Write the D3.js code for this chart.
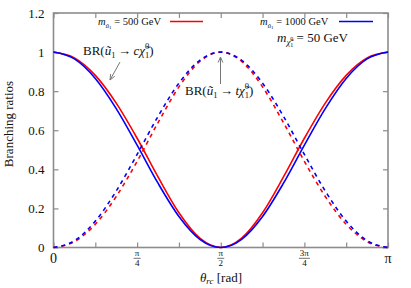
<!DOCTYPE html>
<html>
<head>
<meta charset="utf-8">
<script src="https://cdn.jsdelivr.net/npm/d3@7"></script>
<style>
  body { margin: 0; background: white; }
  text { font-family: "Liberation Serif", "DejaVu Serif", serif; }
</style>
</head>
<body>
<div id="chart"></div>
<script>
// theta in units of pi
var theta = [0, 0.0625, 0.125, 0.1875, 0.25, 0.3125, 0.375, 0.4375, 0.5,
             0.5625, 0.625, 0.6875, 0.75, 0.8125, 0.875, 0.9375, 1];
// m_u1 = 500 GeV (red)
var brCharm500 = [1, 0.970, 0.881, 0.739, 0.559, 0.361, 0.178, 0.048, 0,
                  0.048, 0.178, 0.361, 0.559, 0.739, 0.881, 0.970, 1];
var brTop500 = [0, 0.030, 0.119, 0.261, 0.441, 0.639, 0.822, 0.952, 1,
                0.952, 0.822, 0.639, 0.441, 0.261, 0.119, 0.030, 0];
// m_u1 = 1000 GeV (blue)
var brCharm1000 = [1, 0.965, 0.865, 0.711, 0.524, 0.329, 0.159, 0.042, 0,
                   0.042, 0.159, 0.329, 0.524, 0.711, 0.865, 0.965, 1];
var brTop1000 = [0, 0.035, 0.135, 0.289, 0.476, 0.671, 0.841, 0.958, 1,
                 0.958, 0.841, 0.671, 0.476, 0.289, 0.135, 0.035, 0];

var yTicks = [0, 0.2, 0.4, 0.6, 0.8, 1, 1.2];
var xTicks = [0, 0.125, 0.25, 0.375, 0.5, 0.625, 0.75, 0.875, 1];
var xLabelAt = [0, 0.25, 0.5, 0.75, 1];
var xLabelNum = ["0", "π", "π", "3π", "π"];
var xLabelDen = ["", "4", "2", "4", ""];

var w = 411, h = 288;
var margin = {left: 53.5, right: 23, top: 13, bottom: 40.5};
var axisGrey = "#8c8c8c";
var ink = "#111";
var red = "#ff0000", blue = "#0000ff";

var svg = d3.select("#chart").append("svg").attr("width", w).attr("height", h);

var x = d3.scaleLinear().domain([0, 1]).range([margin.left, w - margin.right]);
var y = d3.scaleLinear().domain([0, 1.2]).range([h - margin.bottom, margin.top]);

function styleAxis(g) {
    g.select(".domain").remove();
    g.selectAll(".tick line").attr("stroke", axisGrey).attr("stroke-width", 1.2);
    g.selectAll("text").attr("font-family", "Liberation Serif").attr("font-size", "13px").attr("fill", ink);
}

svg.append("g")
    .attr("transform", "translate(" + margin.left + ",0)")
    .call(d3.axisLeft(y).tickValues(yTicks).tickSize(-5).tickPadding(9)
        .tickFormat(function(d) { return d === 0 || d === 1 ? d3.format("d")(d) : d3.format(".1f")(d); }))
    .call(styleAxis);
svg.append("g")
    .attr("transform", "translate(" + (w - margin.right) + ",0)")
    .call(d3.axisRight(y).tickValues(yTicks).tickSize(-5).tickFormat(""))
    .call(styleAxis);
svg.append("g")
    .attr("transform", "translate(0," + (h - margin.bottom) + ")")
    .call(d3.axisBottom(x).tickValues(xTicks).tickSize(-5).tickFormat(""))
    .call(styleAxis);
svg.append("g")
    .attr("transform", "translate(0," + margin.top + ")")
    .call(d3.axisTop(x).tickValues(xTicks).tickSize(-5).tickFormat(""))
    .call(styleAxis);

// frame
svg.append("rect")
    .attr("x", margin.left).attr("y", margin.top)
    .attr("width", w - margin.left - margin.right)
    .attr("height", h - margin.top - margin.bottom)
    .attr("fill", "none").attr("stroke", axisGrey).attr("stroke-width", 1.6);

// x tick labels (pi fractions)
var xl = svg.append("g");
for (var i = 0; i < xLabelAt.length; i++) {
    var cx = x(xLabelAt[i]);
    if (xLabelDen[i] === "") {
        xl.append("text").attr("x", cx).attr("y", 263).attr("text-anchor", "middle")
            .attr("font-size", "14px").attr("fill", ink).text(xLabelNum[i]);
    } else {
        xl.append("text").attr("x", cx).attr("y", 256).attr("text-anchor", "middle")
            .attr("font-size", "9px").attr("fill", ink).text(xLabelNum[i]);
        var lw = xLabelNum[i].length > 1 ? 5.5 : 3.5;
        xl.append("line").attr("x1", cx - lw).attr("x2", cx + lw)
            .attr("y1", 258.3).attr("y2", 258.3).attr("stroke", ink).attr("stroke-width", 0.6);
        xl.append("text").attr("x", cx).attr("y", 265.5).attr("text-anchor", "middle")
            .attr("font-size", "9px").attr("fill", ink).text(xLabelDen[i]);
    }
}

// axis titles
var xt = svg.append("text").attr("x", 221).attr("y", 282).attr("text-anchor", "middle")
    .attr("font-size", "13px").attr("fill", ink);
xt.append("tspan").attr("font-style", "italic").text("θ");
xt.append("tspan").attr("font-style", "italic").attr("font-size", "9px").attr("dy", 2).text("rc");
xt.append("tspan").attr("dy", -2).text(" [rad]");

svg.append("text")
    .attr("transform", "translate(13,124) rotate(-90)")
    .attr("text-anchor", "middle").attr("font-size", "13px").attr("fill", ink)
    .text("Branching ratios");

// curves
var line = d3.line()
    .x(function(d) { return x(d[0]); })
    .y(function(d) { return y(d[1]); })
    .curve(d3.curveMonotoneX);

var series = [
    {v: brCharm500, color: red, dash: null},
    {v: brCharm1000, color: blue, dash: null},
    {v: brTop500, color: red, dash: "4,4"},
    {v: brTop1000, color: blue, dash: "4,4"}
];
series.forEach(function(s) {
    svg.append("path")
        .datum(d3.zip(theta, s.v))
        .attr("d", line)
        .attr("fill", "none")
        .attr("stroke", s.color)
        .attr("stroke-width", 1.6)
        .attr("stroke-dasharray", s.dash);
});

// subscript + superscript stacked on top of each other
function subSup(t, sub, sup, size, dSub, dSup) {
    var a = t.append("tspan").attr("font-size", size + "px").attr("dy", dSub).text(sub);
    var wa = a.node().getComputedTextLength();
    var b = t.append("tspan").attr("font-size", size + "px").attr("dx", -wa).attr("dy", dSup).text(sup);
    var wb = b.node().getComputedTextLength();
    return Math.max(0, wa - wb);
}

// legend
function massLabel(xp, yp, val) {
    var t = svg.append("text").attr("x", xp).attr("y", yp).attr("font-size", "10.5px").attr("fill", ink);
    t.append("tspan").attr("font-style", "italic").text("m");
    t.append("tspan").attr("font-style", "italic").attr("font-size", "7px").attr("dy", 2.5).text("ũ");
    t.append("tspan").attr("font-size", "5px").attr("dy", 1).text("1");
    t.append("tspan").attr("dy", -3.5).text(" = " + val + " GeV");
}
massLabel(98, 25, "500");
svg.append("line").attr("x1", 170).attr("x2", 203).attr("y1", 21.5).attr("y2", 21.5)
    .attr("stroke", red).attr("stroke-width", 1.6);
massLabel(260, 25, "1000");
svg.append("line").attr("x1", 339).attr("x2", 373).attr("y1", 21.5).attr("y2", 21.5)
    .attr("stroke", blue).attr("stroke-width", 1.6);

// neutralino mass
var lsp = svg.append("text").attr("x", 277).attr("y", 42).attr("font-size", "13px").attr("fill", ink);
lsp.append("tspan").attr("font-style", "italic").text("m");
lsp.append("tspan").attr("font-style", "italic").attr("font-size", "9px").attr("dy", 3).text("χ\u0303");
var r0 = subSup(lsp, "1", "0", 6, 1.5, -5.5);
lsp.append("tspan").attr("dx", r0).attr("dy", 1).text(" = 50 GeV");

// BR annotations
function brLabel(xp, yp, q) {
    var t = svg.append("text").attr("x", xp).attr("y", yp).attr("font-size", "13px").attr("fill", ink);
    t.append("tspan").text("BR(");
    t.append("tspan").attr("font-style", "italic").text("ũ");
    t.append("tspan").attr("font-size", "8.5px").attr("dy", 2.5).text("1");
    t.append("tspan").attr("dy", -2.5).attr("dx", 2.5).text("→");
    t.append("tspan").attr("font-style", "italic").attr("dx", 2.5).text(q + "χ\u0303");
    var r = subSup(t, "1", "0", 8.5, 3, -9);
    t.append("tspan").attr("dx", r).attr("dy", 6).text(")");
}
brLabel(83, 55, "c");
brLabel(185, 95, "t");

function arrow(x1, y1, x2, y2) {
    svg.append("line").attr("x1", x1).attr("y1", y1).attr("x2", x2).attr("y2", y2)
        .attr("stroke", "#777").attr("stroke-width", 1);
    var a = Math.atan2(y2 - y1, x2 - x1), len = 6, sp = 0.4;
    var p = "M" + (x2 - len * Math.cos(a - sp)) + "," + (y2 - len * Math.sin(a - sp)) +
        "L" + x2 + "," + y2 +
        "L" + (x2 - len * Math.cos(a + sp)) + "," + (y2 - len * Math.sin(a + sp));
    svg.append("path").attr("d", p).attr("fill", "none").attr("stroke", "#777").attr("stroke-width", 1);
}
arrow(120, 62, 110, 80);
arrow(220.5, 84, 220.5, 57);
</script>
</body>
</html>
